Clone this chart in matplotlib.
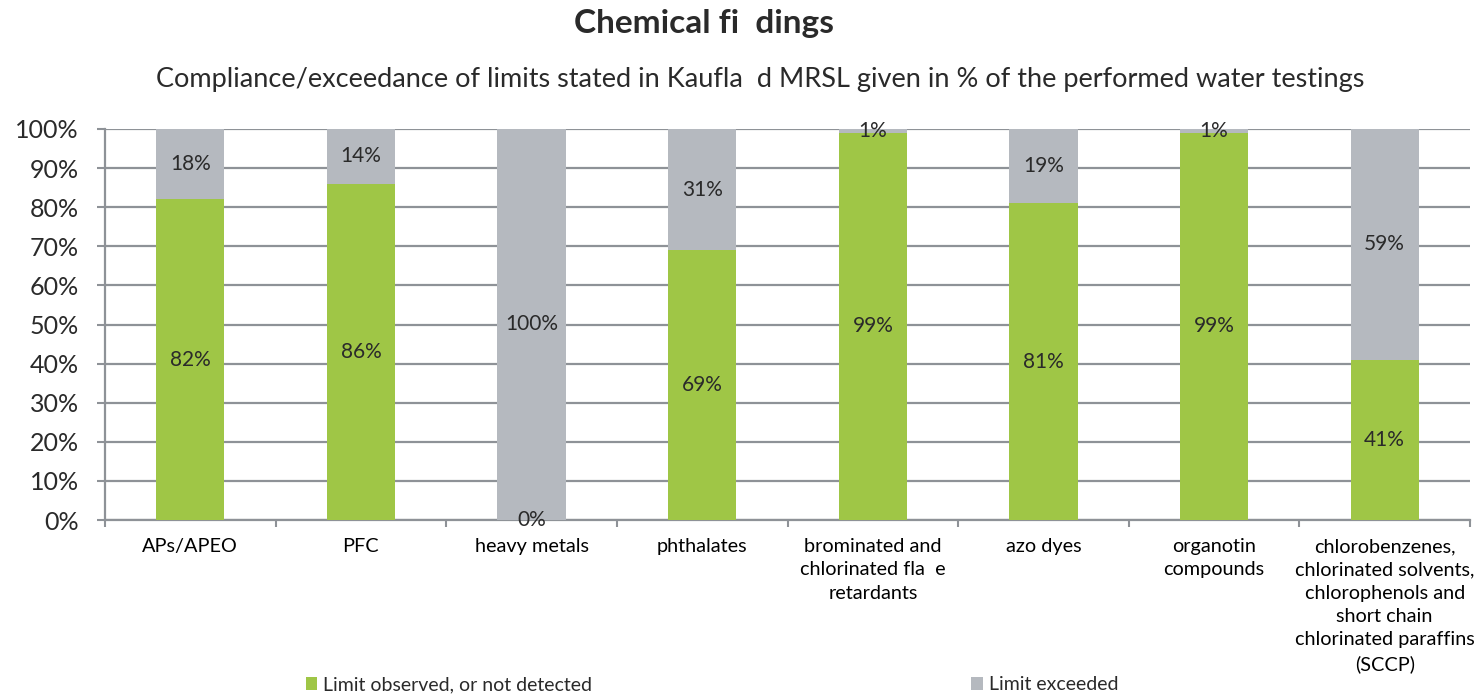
import matplotlib.pyplot as plt
import numpy as np

# share of water tests per substance group, in %
categories = [
    "APs/APEO",
    "PFC",
    "heavy metals",
    "phthalates",
    "brominated and\nchlorinated fla  e\nretardants",
    "azo dyes",
    "organotin\ncompounds",
    "chlorobenzenes,\nchlorinated solvents,\nchlorophenols and\nshort chain\nchlorinated paraffins\n(SCCP)",
]
observed = [82, 86, 0, 69, 99, 81, 99, 41]
exceeded = [18, 14, 100, 31, 1, 19, 1, 59]

green = "#9fc646"
grey = "#b5b9bf"
line_col = "#8e9297"
text_col = "#2a2a2a"

plt.rcParams["font.family"] = ["Lato", "DejaVu Sans"]
plt.rcParams["text.color"] = text_col

fig = plt.figure(figsize=(14.77, 6.95), dpi=100)
ax = fig.add_axes([105 / 1477, 1 - 520 / 695, 1365 / 1477, 391 / 695])

x = np.arange(len(categories))
w = 0.4
b1 = ax.bar(x, observed, width=w, color=green, zorder=3,
            label="Limit observed, or not detected")
b2 = ax.bar(x, exceeded, width=w, bottom=observed, color=grey, zorder=3,
            label="Limit exceeded")

# value labels in the middle of each segment
for i in range(len(categories)):
    ax.text(x[i], observed[i] / 2, f"{observed[i]}%", ha="center", va="center",
            fontsize=15, color=text_col, zorder=4)
    ax.text(x[i], observed[i] + exceeded[i] / 2, f"{exceeded[i]}%", ha="center",
            va="center", fontsize=15, color=text_col, zorder=4)

ax.set_xlim(-0.5, len(categories) - 0.5)
ax.set_ylim(0, 100)
ax.set_yticks(np.arange(0, 101, 10))
ax.set_yticklabels([f"{v}%" for v in range(0, 101, 10)], fontsize=18)
ax.yaxis.grid(True, color=line_col, linewidth=1.6, zorder=0)

ax.set_xticks(x)
ax.set_xticklabels(categories, fontsize=14.3, linespacing=1.45, va="top")
ax.set_xticks(np.arange(-0.5, len(categories), 1), minor=True)
ax.tick_params(axis="x", which="major", length=0, pad=13)
ax.tick_params(axis="x", which="minor", length=5, color=line_col, width=1.5)
ax.tick_params(axis="y", length=6, color=line_col, width=1.5, pad=13,
               labelcolor=text_col)

for side in ["top", "right"]:
    ax.spines[side].set_visible(False)
for side in ["left", "bottom"]:
    ax.spines[side].set_color(line_col)
    ax.spines[side].set_linewidth(1.6)

fig.text(704 / 1477, 1 - 23 / 695, "Chemical fi  dings", ha="center", va="center",
         fontsize=24, fontweight="bold")
fig.text(760 / 1477, 1 - 79 / 695,
         "Compliance/exceedance of limits stated in Kaufla  d MRSL given in % of the performed water testings",
         ha="center", va="center", fontsize=19.5)

fig.legend(handles=[b1, b2], loc="center left", bbox_to_anchor=(298 / 1477, 1 - 685 / 695),
           ncol=2, frameon=False, fontsize=14, handlelength=0.6, handleheight=0.6,
           handletextpad=0.3, columnspacing=19.5, borderaxespad=0)

fig.savefig("out.png", dpi=100)
